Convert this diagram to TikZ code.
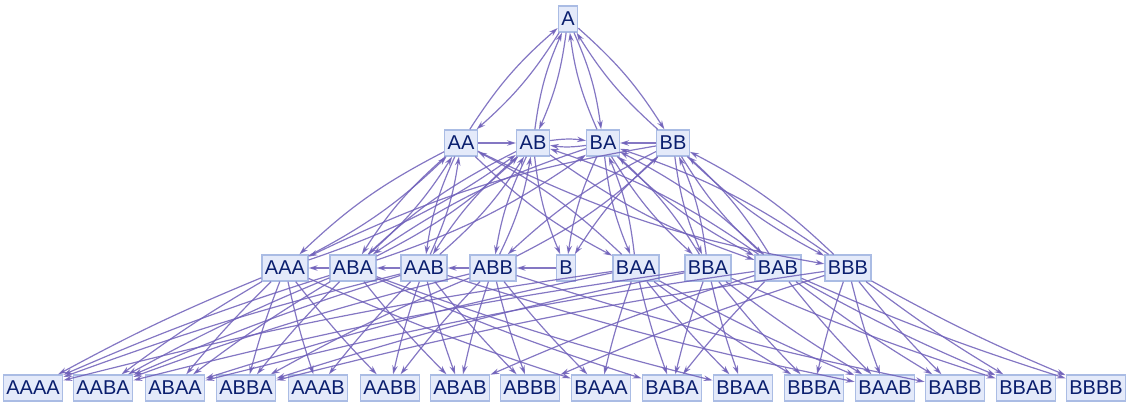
\documentclass[tikz,border=0pt]{standalone}
\usepackage{fontspec}
\setmainfont{Liberation Sans}
\usetikzlibrary{arrows.meta}
\definecolor{edg}{RGB}{110,95,185}
\definecolor{nfill}{RGB}{228,234,250}
\definecolor{ndraw}{RGB}{170,188,228}
\definecolor{ntext}{RGB}{10,30,110}
\begin{document}
\begin{tikzpicture}[x=1pt,y=-1pt,
  v/.style={draw=ndraw,fill=nfill,text=ntext,line width=1.3pt,inner xsep=3pt,inner ysep=2pt,minimum height=26pt,font=\fontsize{20}{20}\selectfont},
  e/.style={draw=edg,line width=1.2pt,opacity=0.85,-{Stealth[length=9pt,width=5.5pt]}},
  bl/.style={e,bend left=8},br/.style={e,bend right=8}]
\useasboundingbox (0,0) rectangle (1128,414);
\node[v] (A) at (568,19) {A};
\foreach \n/\x in {AA/461,AB/533,BA/603,BB/673} \node[v] (\n) at (\x,143) {\n};
\foreach \n/\x in {AAA/285,ABA/353,AAB/424,ABB/493,B/566,BAA/636,BBA/708,BAB/778,BBB/848} \node[v] (\n) at (\x,268) {\n};
\foreach \n/\x in {AAAA/33,AABA/103,ABAA/175,ABBA/246,AAAB/318,AABB/390,ABAB/460,ABBB/530,BAAA/601,BABA/672,BBAA/743,BBBA/814,BAAB/885,BABB/955,BBAB/1026,BBBB/1096} \node[v] (\n) at (\x,388) {\n};
\foreach \n in {AA,AB,BA,BB} {\draw[bl] (A) to (\n); \draw[bl] (\n) to (A);}
\draw[bl] (AB) to (BA); \draw[bl] (BA) to (AB);
\draw[e] (AA) -- (AB); \draw[e] (BB) -- (BA);
\foreach \s/\t in {AA/AAA,AA/BAA,AA/ABA,AA/AAB,AB/AAB,AB/BAB,AB/ABB,AB/ABA,BA/ABA,BA/BBA,BA/BAA,BA/BAB,BB/ABB,BB/BBB,BB/BAB,BB/BBA,AB/B,BA/B,BB/B,AA/BBB,BB/AAA}
  \draw[br] (\s) to (\t);
\foreach \s/\t in {AAA/AA,ABA/BA,AAB/AB,ABB/BB,BAA/AA,BBA/BA,BAB/AB,BBB/BB,ABA/AA,BAB/BB,
  ABA/AB,AAB/AA,ABB/AB,BAA/BA,BBA/BB,BAB/BA,AAA/AB,BBB/BA}
  \draw[br] (\s) to (\t);
\draw[e] (ABA) -- (AAA); \draw[e] (AAB) -- (ABA); \draw[e] (ABB) -- (AAB); \draw[e] (B) -- (ABB);
\foreach \s/\t in {AAA/AAAA,AAA/BAAA,AAA/ABAA,AAA/AABA,AAA/AAAB,AAA/ABBA,AAA/AABB,
  ABA/AABA,ABA/BABA,ABA/ABBA,ABA/ABAA,ABA/ABAB,ABA/AAAA,ABA/BBAA,
  AAB/AAAB,AAB/BAAB,AAB/ABAB,AAB/AABB,AAB/AABA,AAB/ABBB,AAB/AAAA,
  ABB/AABB,ABB/BABB,ABB/ABAB,ABB/ABBB,ABB/ABBA,ABB/AABA,ABB/BAAA,
  BAA/ABAA,BAA/BBAA,BAA/BAAA,BAA/BABA,BAA/BAAB,BAA/AAAA,BAA/BBBA,
  BBA/ABBA,BBA/BBBA,BBA/BABA,BBA/BBAA,BBA/BBAB,BBA/AABA,BBA/BAAB,
  BAB/ABAB,BAB/BBAB,BAB/BAAB,BAB/BABB,BAB/BABA,BAB/ABAA,BAB/BBBB,
  BBB/ABBB,BBB/BBBB,BBB/BABB,BBB/BBAB,BBB/BBBA,BBB/ABBA,BBB/BAAB}
  \draw[e,bend right=3] (\s) to (\t);
\end{tikzpicture}
\end{document}
